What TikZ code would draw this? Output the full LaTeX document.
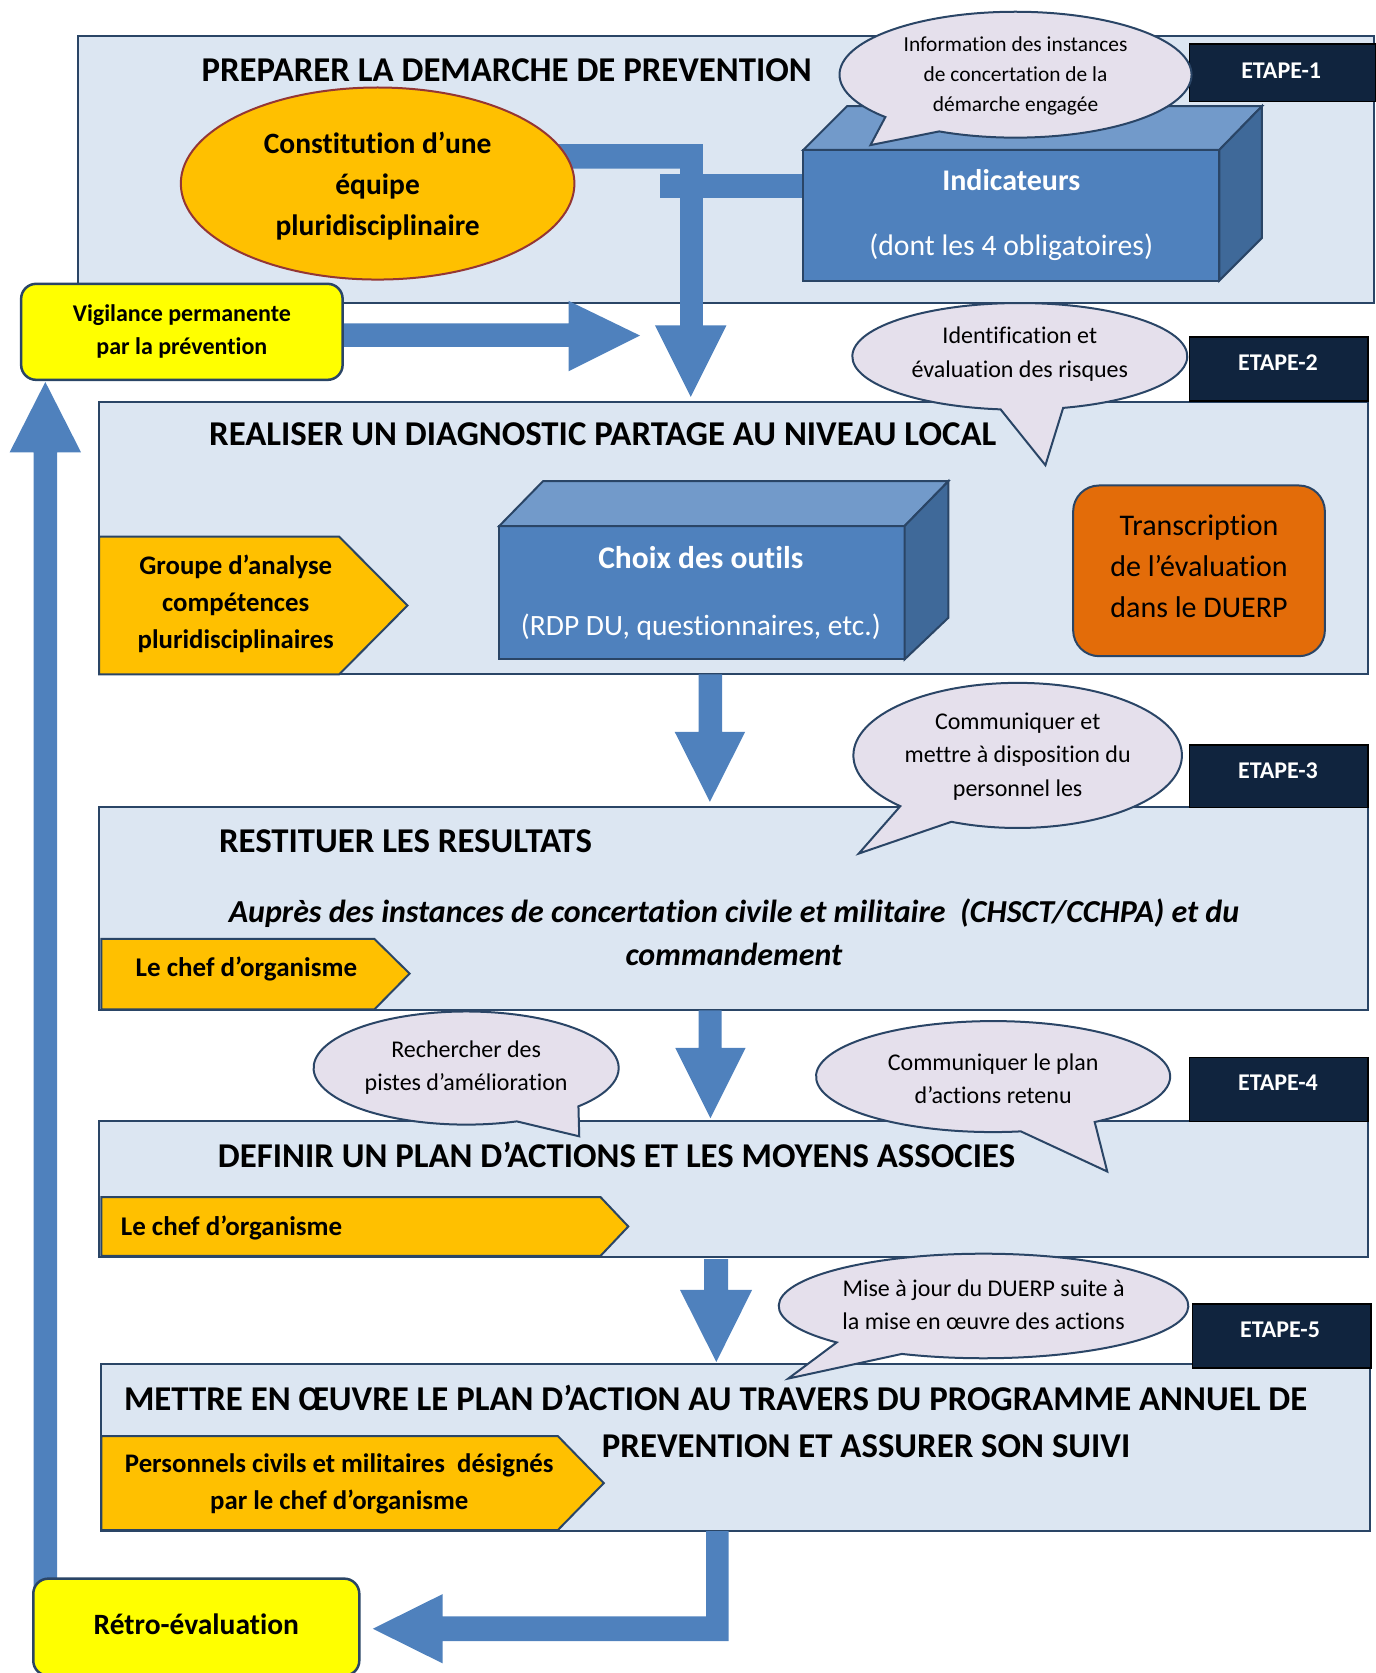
\documentclass[tikz,border=0pt]{standalone}
\usepackage{fontspec}
\setmainfont{Carlito}[Ligatures=NoCommon]
\usetikzlibrary{calc}

\definecolor{panelfill}{HTML}{DCE6F2}
\definecolor{panelline}{HTML}{2A4566}
\definecolor{arrowblue}{HTML}{4F81BD}
\definecolor{gold}{HTML}{FFC000}
\definecolor{navy}{HTML}{10243E}
\definecolor{bubblefill}{HTML}{E5E0EC}
\definecolor{orangebox}{HTML}{E36C09}
\definecolor{ellline}{HTML}{943634}
\definecolor{cubetop}{HTML}{729ACA}
\definecolor{cubeside}{HTML}{3F6999}
\definecolor{signyellow}{HTML}{FFFF00}

\newcommand\fsz[2]{\fontsize{#1}{#2}\selectfont}

\begin{document}
\begin{tikzpicture}[x=1.06672pt,y=-1.06696pt,
  panel/.style={fill=panelfill,draw=panelline,line width=2pt},
  bubble/.style={fill=bubblefill,draw=panelline,line width=2pt},
  etapebox/.style={fill=navy,draw=black,line width=1.5pt},
  etapetext/.style={text=white,font=\fsz{24}{28}\bfseries},
  blockarrow/.style={fill=arrowblue},
  tag/.style={fill=gold,draw=panelline,line width=2pt},
  cubefront/.style={fill=arrowblue,draw=panelline,line width=2pt},
  cubetopface/.style={fill=cubetop,draw=panelline,line width=2pt},
  cubesideface/.style={fill=cubeside,draw=panelline,line width=2pt},
  title/.style={font=\fsz{34.8}{40}\bfseries},
  bubbletext/.style={align=center,font=\fsz{24}{33}},
  cubetext/.style={text=white},
  tagtext/.style={align=center,font=\fsz{26.8}{37}\bfseries},
  signbox/.style={fill=signyellow,draw=panelline,line width=2.5pt,rounded corners=15pt}
]
\useasboundingbox (0,0) rectangle (1289,1568);

% ---------- the five step panels ----------
\draw[panel] (73.5,34) rectangle (1288,284);
\draw[panel] (93,376.5) rectangle (1282.5,632);
\draw[panel] (93,756.5) rectangle (1282.5,946.5);
\draw[panel] (93,1051) rectangle (1282.5,1178.5);
\draw[panel] (94.5,1278) rectangle (1284,1434.5);

% ---------- block arrows ----------
% team -> diagnostic (L-shaped)
\fill[blockarrow] (500,135) -- (659,135) -- (659,305) -- (681,305) -- (647.5,372)
  -- (614,305) -- (637.5,305) -- (637.5,158) -- (500,158) -- cycle;
% indicators link bar
\fill[blockarrow] (619,163) rectangle (760,186);
% vigilance -> diagnostic
\fill[blockarrow] (315,303) -- (533,303) -- (533,282) -- (600,314.5) -- (533,348)
  -- (533,325) -- (315,325) -- cycle;
% step 2 -> step 3
\fill[blockarrow] (655,632) -- (677,632) -- (677,686) -- (698.5,686) -- (665.5,751.5)
  -- (632.5,686) -- (655,686) -- cycle;
% step 3 -> step 4
\fill[blockarrow] (655,947) -- (676.5,947) -- (676.5,982) -- (699,982) -- (666,1048)
  -- (633,982) -- (655,982) -- cycle;
% step 4 -> step 5
\fill[blockarrow] (660,1180) -- (682.5,1180) -- (682.5,1209) -- (705,1209) -- (671.5,1276.5)
  -- (637.5,1209) -- (660,1209) -- cycle;
% step 5 -> feedback evaluation
\fill[blockarrow] (662,1435) -- (683,1435) -- (683,1538) -- (415,1538) -- (415,1559)
  -- (349.5,1526.5) -- (415,1494) -- (415,1515) -- (662,1515) -- cycle;
% feedback evaluation -> vigilance (left return)
\fill[blockarrow] (31.5,1490) -- (31.5,424) -- (9,424) -- (42.5,358) -- (76,424)
  -- (53.5,424) -- (53.5,1490) -- cycle;

% ---------- step 1 contents ----------
\node[title] (t1) at (475,66) {PREPARER LA DEMARCHE DE PREVENTION};
\draw[fill=gold,draw=ellline,line width=2pt] (354,172) ellipse [x radius=184.5, y radius=90];
\node[align=center,font=\fsz{29.5}{41}\bfseries] (team) at (354,174)
  {Constitution d’une\\équipe\\pluridisciplinaire};

\draw[cubefront] (753,140.5) rectangle (1143,263);
\draw[cubetopface] (753,140.5) -- (794,99.5) -- (1183,99.5) -- (1143,140.5) -- cycle;
\draw[cubesideface] (1143,140.5) -- (1183,99.5) -- (1183,223) -- (1143,263) -- cycle;
\node[cubetext,font=\fsz{30}{34}\bfseries] (ind) at (948,169) {Indicateurs};
\node[cubetext,font=\fsz{29.7}{34}] (indsub) at (948,232) {(dont les 4 obligatoires)};

\node[signbox,minimum width=321.5pt,minimum height=96pt] (vig) at (170.5,311) {};
\node[align=center,font=\fsz{24}{33}\bfseries] (vigt) at (170.5,311)
  {Vigilance permanente\\par la prévention};

% ---------- step 2 contents ----------
\node[title] (t2) at (565,407) {REALISER UN DIAGNOSTIC PARTAGE AU NIVEAU LOCAL};
\draw[tag] (93,503) -- (318,503) -- (382,567.5) -- (318,632) -- (93,632) -- cycle;
\node[tagtext] (grp) at (221,566) {Groupe d’analyse\\compétences\\pluridisciplinaires};

\draw[cubefront] (468,493) rectangle (848,618);
\draw[cubetopface] (468,493) -- (509,451) -- (889,451) -- (848,493) -- cycle;
\draw[cubesideface] (848,493) -- (889,451) -- (889,579) -- (848,618) -- cycle;
\node[cubetext,font=\fsz{31.5}{34}\bfseries] (tools) at (657,523) {Choix des outils};
\node[cubetext,font=\fsz{29.5}{34}] (toolssub) at (657,588) {(RDP DU, questionnaires, etc.)};

\draw[fill=orangebox,draw=panelline,line width=2pt,rounded corners=26pt]
  (1006,455) rectangle (1242,615);
\node[align=center,font=\fsz{30}{41}] (duerp) at (1124,531)
  {Transcription\\de l’évaluation\\dans le DUERP};

% ---------- step 3 contents ----------
\node[title,anchor=west] (t3) at (202,788) {RESTITUER LES RESULTATS};
\node[align=center,font=\fsz{32}{43}\bfseries\itshape] (inst) at (688,874)
  {Auprès des instances de concertation civile et militaire~ (CHSCT/CCHPA) et du\\commandement};
\draw[tag] (95,880) -- (351,880) -- (384,912.5) -- (351,946) -- (95,946) -- cycle;
\node[tagtext,font=\fsz{27}{37}\bfseries] (chef3) at (231,908) {Le chef d’organisme};

% ---------- step 4 contents ----------
\node[title,anchor=west] (t4) at (201,1082) {DEFINIR UN PLAN D’ACTIONS ET LES MOYENS ASSOCIES};
\draw[tag] (95,1122) -- (563,1122) -- (589,1149.5) -- (563,1177) -- (95,1177) -- cycle;
\node[tagtext,font=\fsz{27}{37}\bfseries,anchor=west] (chef4) at (110,1151) {Le chef d’organisme};

% ---------- step 5 contents ----------
\node[title,anchor=west] (t5a) at (113,1310)
  {METTRE EN ŒUVRE LE PLAN D’ACTION AU TRAVERS DU PROGRAMME ANNUEL DE};
\node[title,anchor=west] (t5b) at (561,1355) {PREVENTION ET ASSURER SON SUIVI};
\draw[tag] (95,1346) -- (523,1346) -- (566,1390) -- (523,1434) -- (95,1434) -- cycle;
\node[tagtext,font=\fsz{26.8}{37}\bfseries] (pers) at (318,1391)
  {Personnels civils et militaires~ désignés\\par le chef d’organisme};

\node[signbox,minimum width=326pt,minimum height=97pt] (retro) at (184,1525) {};
\node[font=\fsz{29.5}{32}\bfseries] (retrot) at (184,1522) {Rétro-évaluation};

% ---------- step labels ----------
\draw[etapebox] (1115,41) rectangle (1290,95);
\node[etapetext] (e1) at (1201,66) {ETAPE-1};
\draw[etapebox] (1115,316) rectangle (1282.5,376);
\node[etapetext] (e2) at (1198,340) {ETAPE-2};
\draw[etapebox] (1115,698) rectangle (1282.5,757);
\node[etapetext] (e3) at (1198,722) {ETAPE-3};
\draw[etapebox] (1115,991) rectangle (1282.5,1051);
\node[etapetext] (e4) at (1198,1015) {ETAPE-4};
\draw[etapebox] (1118,1222) rectangle (1285,1282);
\node[etapetext] (e5) at (1200,1246) {ETAPE-5};

% ---------- speech bubbles ----------
\draw[bubble] (952,70) ++(137.7:165 and 59)
  arc[start angle=137.7, end angle=475.7, x radius=165, y radius=59] -- (816,136) -- cycle;
\node[bubbletext,font=\fsz{21.4}{30}] (c1) at (952,71) {Information des instances\\de concertation de la\\démarche engagée};

\draw[bubble] (956,334) ++(96.6:157 and 50)
  arc[start angle=96.6, end angle=435, x radius=157, y radius=50] -- (980,436) -- cycle;
\node[bubbletext,font=\fsz{24}{34}] (c2) at (956,332) {Identification et\\évaluation des risques};

\draw[bubble] (954,708) ++(135.6:154 and 68)
  arc[start angle=135.6, end angle=473.8, x radius=154, y radius=68] -- (805,800) -- cycle;
\node[bubbletext,font=\fsz{24}{33.5}] (c3) at (954,709) {Communiquer et\\mettre à disposition du\\personnel les};

\draw[bubble] (437,1001) ++(70.6:143 and 53)
  arc[start angle=70.6, end angle=402.6, x radius=143, y radius=53] -- (543,1065) -- cycle;
\node[bubbletext] (c4a) at (437,1001) {Rechercher des\\pistes d’amélioration};

\draw[bubble] (931,1009) ++(81:166 and 52)
  arc[start angle=81, end angle=415, x radius=166, y radius=52] -- (1038,1098) -- cycle;
\node[bubbletext] (c4b) at (931,1011) {Communiquer le plan\\d’actions retenu};

\draw[bubble] (922,1224) ++(135.8:192 and 49)
  arc[start angle=135.8, end angle=473.5, x radius=192, y radius=49] -- (739,1292) -- cycle;
\node[bubbletext] (c5) at (922,1223) {Mise à jour du DUERP suite à\\la mise en œuvre des actions};

\end{tikzpicture}
\end{document}
